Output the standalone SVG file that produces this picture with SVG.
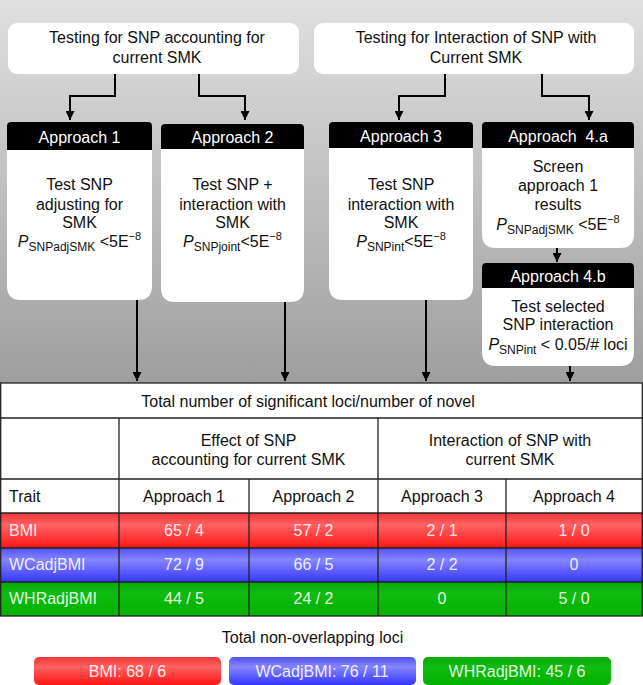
<svg xmlns="http://www.w3.org/2000/svg" width="643" height="685" viewBox="0 0 643 685">
<defs>
<linearGradient id="bg" x1="0" y1="0" x2="0" y2="1"><stop offset="0" stop-color="#e0e0e0"/><stop offset="1" stop-color="#9e9e9e"/></linearGradient>
<linearGradient id="red" x1="0" y1="0" x2="0" y2="1"><stop offset="0" stop-color="#f03636"/><stop offset="0.35" stop-color="#ff6262"/><stop offset="1" stop-color="#ff1414"/></linearGradient>
<linearGradient id="blue" x1="0" y1="0" x2="0" y2="1"><stop offset="0" stop-color="#5252f5"/><stop offset="0.35" stop-color="#8585ff"/><stop offset="1" stop-color="#3535ff"/></linearGradient>
<linearGradient id="green" x1="0" y1="0" x2="0" y2="1"><stop offset="0" stop-color="#08a808"/><stop offset="0.35" stop-color="#10bc10"/><stop offset="1" stop-color="#00b000"/></linearGradient>
<marker id="ah" viewBox="0 0 10 10" refX="10" refY="5" markerWidth="9" markerHeight="9" markerUnits="userSpaceOnUse" orient="auto"><path d="M0,0 L10,5 L0,10 z" fill="#000"/></marker>
<style>
text{font-family:"Liberation Sans",Arial,Helvetica,sans-serif;font-size:16px;fill:#111}
.c{text-anchor:middle}
.hd{fill:#fff}
.w{fill:#fff}
.box{fill:#fff}
.hdr{fill:#000}
.con{fill:none;stroke:#000;stroke-width:2;marker-end:url(#ah)}
.tl{stroke:#222;stroke-width:1.3;fill:none}
.cell{fill:#fff;fill-opacity:0.9}
.sub{font-size:12px}
.sup{font-size:11px}
</style>
</defs>
<rect x="0" y="0" width="643" height="685" fill="#fff"/>
<rect x="0" y="0" width="643" height="383" fill="url(#bg)"/>

<g id="top-left">
<rect x="8" y="23" width="291" height="51" rx="9" class="w"/>
<text x="157" y="43" class="c">Testing for SNP accounting for</text>
<text x="157" y="63" class="c">current SMK</text>
</g>
<g id="top-right">
<rect x="314" y="23" width="320" height="51" rx="9" class="w"/>
<text x="476" y="43" class="c">Testing for Interaction of SNP with</text>
<text x="476" y="63" class="c">Current SMK</text>
</g>

<g id="approach1">
<path class="box" d="M11,122 H148 Q152,122 152,126 V286 Q152,300 138,300 H21 Q7,300 7,286 V126 Q7,122 11,122 Z"/>
<path class="hdr" d="M11,122 H148 Q152,122 152,126 V150 H7 V126 Q7,122 11,122 Z"/>
<text x="79.5" y="143" class="c hd">Approach 1</text>
<text x="79.5" y="190" class="c">Test SNP</text>
<text x="79.5" y="210" class="c">adjusting for</text>
<text x="79.5" y="228" class="c">SMK</text>
<text x="79.5" y="247" class="c"><tspan font-style="italic">P</tspan><tspan class="sub" dy="4">SNPadjSMK</tspan><tspan dy="-4"> &lt;5E</tspan><tspan class="sup" dy="-7">−8</tspan></text>
</g>

<g id="approach2">
<path class="box" d="M165,124 H300 Q304,124 304,128 V288 Q304,302 290,302 H175 Q161,302 161,288 V128 Q161,124 165,124 Z"/>
<path class="hdr" d="M165,124 H300 Q304,124 304,128 V149 H161 V128 Q161,124 165,124 Z"/>
<text x="232.5" y="143" class="c hd">Approach 2</text>
<text x="232.5" y="190" class="c">Test SNP +</text>
<text x="232.5" y="210" class="c">interaction with</text>
<text x="232.5" y="228" class="c">SMK</text>
<text x="232.5" y="247" class="c"><tspan font-style="italic">P</tspan><tspan class="sub" dy="4">SNPjoint</tspan><tspan dy="-4">&lt;5E</tspan><tspan class="sup" dy="-7">−8</tspan></text>
</g>

<g id="approach3">
<path class="box" d="M333,122 H469 Q473,122 473,126 V286 Q473,300 459,300 H343 Q329,300 329,286 V126 Q329,122 333,122 Z"/>
<path class="hdr" d="M333,122 H469 Q473,122 473,126 V148 H329 V126 Q329,122 333,122 Z"/>
<text x="401" y="142" class="c hd">Approach 3</text>
<text x="401" y="190" class="c">Test SNP</text>
<text x="401" y="210" class="c">interaction with</text>
<text x="401" y="228" class="c">SMK</text>
<text x="401" y="247" class="c"><tspan font-style="italic">P</tspan><tspan class="sub" dy="4">SNPint</tspan><tspan dy="-4">&lt;5E</tspan><tspan class="sup" dy="-7">−8</tspan></text>
</g>

<g id="approach4a">
<path class="box" d="M486,122 H630 Q634,122 634,126 V234 Q634,248 620,248 H496 Q482,248 482,234 V126 Q482,122 486,122 Z"/>
<path class="hdr" d="M486,122 H630 Q634,122 634,126 V148 H482 V126 Q482,122 486,122 Z"/>
<text x="558" y="142" class="c hd" xml:space="preserve">Approach  4.a</text>
<text x="558" y="172" class="c">Screen</text>
<text x="558" y="191" class="c">approach 1</text>
<text x="558" y="210" class="c">results</text>
<text x="558" y="230" class="c"><tspan font-style="italic">P</tspan><tspan class="sub" dy="4">SNPadjSMK</tspan><tspan dy="-4"> &lt;5E</tspan><tspan class="sup" dy="-7">−8</tspan></text>
</g>

<g id="approach4b">
<path class="box" d="M486,263 H630 Q634,263 634,267 V352 Q634,366 620,366 H496 Q482,366 482,352 V267 Q482,263 486,263 Z"/>
<path class="hdr" d="M486,263 H630 Q634,263 634,267 V288 H482 V267 Q482,263 486,263 Z"/>
<text x="558" y="282" class="c hd">Approach 4.b</text>
<text x="558" y="312" class="c">Test selected</text>
<text x="558" y="330" class="c">SNP interaction</text>
<text x="558" y="350" class="c"><tspan font-style="italic">P</tspan><tspan class="sub" dy="4">SNPint</tspan><tspan dy="-4"> &lt; 0.05/# loci</tspan></text>
</g>

<g id="connectors">
<path class="con" d="M115,74 V96 H70 V120"/>
<path class="con" d="M199,74 V96 H245 V120"/>
<path class="con" d="M445,74 V96 H399 V120"/>
<path class="con" d="M542,74 V96 H589 V120"/>
<path class="con" d="M557,248 V262"/>
<path class="con" d="M137,300 V381"/>
<path class="con" d="M285,302 V381"/>
<path class="con" d="M426,300 V381"/>
<path class="con" d="M570,366 V381"/>
</g>

<g id="table">
<rect x="0" y="383" width="643" height="233" fill="#fff"/>
<rect x="0" y="513" width="643" height="35" fill="url(#red)"/>
<rect x="0" y="548" width="643" height="34" fill="url(#blue)"/>
<rect x="0" y="582" width="643" height="34" fill="url(#green)"/>
<rect x="0.7" y="383" width="641.6" height="233" class="tl"/>
<path class="tl" d="M0,418 H643 M119,479 H643 M0,479 H119 M0,513 H643 M0,548 H643 M0,582 H643 M119,418 V616 M378,418 V616 M249,479 V616 M506,479 V616"/>
<text x="308" y="407" class="c">Total number of significant loci/number of novel</text>
<text x="248.5" y="446" class="c">Effect of SNP</text>
<text x="248.5" y="465" class="c">accounting for current SMK</text>
<text x="510" y="446" class="c">Interaction of SNP with</text>
<text x="510" y="465" class="c">current SMK</text>
<text x="9" y="502">Trait</text>
<text x="184" y="502" class="c">Approach 1</text>
<text x="313.5" y="502" class="c">Approach 2</text>
<text x="442" y="502" class="c">Approach 3</text>
<text x="574" y="502" class="c">Approach 4</text>
<text x="9" y="536" class="cell">BMI</text>
<text x="184" y="536" class="c cell">65 / 4</text>
<text x="313.5" y="536" class="c cell">57 / 2</text>
<text x="442" y="536" class="c cell">2 / 1</text>
<text x="574" y="536" class="c cell">1 / 0</text>
<text x="9" y="570" class="cell">WCadjBMI</text>
<text x="184" y="570" class="c cell">72 / 9</text>
<text x="313.5" y="570" class="c cell">66 / 5</text>
<text x="442" y="570" class="c cell">2 / 2</text>
<text x="574" y="570" class="c cell">0</text>
<text x="9" y="604" class="cell">WHRadjBMI</text>
<text x="184" y="604" class="c cell">44 / 5</text>
<text x="313.5" y="604" class="c cell">24 / 2</text>
<text x="442" y="604" class="c cell">0</text>
<text x="574" y="604" class="c cell">5 / 0</text>
</g>

<g id="totals">
<text x="312.5" y="643" class="c">Total non-overlapping loci</text>
<rect x="34" y="657" width="187" height="28" rx="5" fill="url(#red)"/>
<rect x="229" y="657" width="187" height="28" rx="5" fill="url(#blue)"/>
<rect x="423" y="657" width="188" height="28" rx="5" fill="url(#green)"/>
<text x="127.5" y="677" class="c cell">BMI: 68 / 6</text>
<text x="322" y="677" class="c cell">WCadjBMI: 76 / 11</text>
<text x="517" y="677" class="c cell">WHRadjBMI: 45 / 6</text>
</g>
</svg>
